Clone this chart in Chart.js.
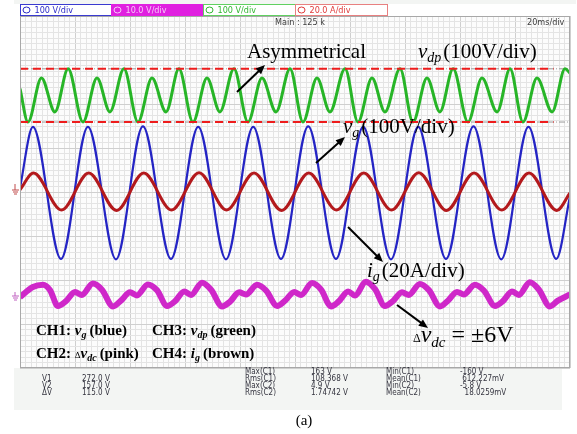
<!DOCTYPE html>
<html>
<head>
<meta charset="utf-8">
<script src="https://cdn.jsdelivr.net/npm/chart.js@4.4.1/dist/chart.umd.min.js"></script>
<style>
  html, body { margin: 0; padding: 0; background: #fff; }
  canvas { display: block; }
</style>
</head>
<body>
<canvas id="scope" width="577" height="434"></canvas>
<script>
// horizontal: 20 ms/div, 10 div.  vertical: screen divisions (8 div)
const timeMin = 0, timeMax = 200;
const divMin = -4, divMax = 4;

// CH3 vdp (green) turning points
const vdpTime = [0, 2.9, 7.8, 12.7, 17.5, 22.9, 28.0, 32.7, 37.8, 42.9, 48.0, 53.1, 57.8, 62.9, 68.0, 72.7, 77.8,
  82.9, 88.0, 93.1, 98.2, 102.9, 108.0, 112.7, 118.2, 122.9, 128.0, 132.7, 138.2, 142.9, 148.0, 152.7, 157.5,
  162.9, 168.0, 173.5, 178.2, 182.9, 188.0, 193.5, 198.2, 200];
const vdpDiv = [2.35, 1.59, 2.59, 1.82, 2.80, 1.59, 2.59, 1.82, 2.80, 1.59, 2.59, 1.82, 2.80, 1.59, 2.59, 1.82, 2.80,
  1.59, 2.59, 1.82, 2.80, 1.59, 2.59, 1.82, 2.80, 1.59, 2.59, 1.82, 2.80, 1.59, 2.59, 1.82, 2.80,
  1.59, 2.59, 1.82, 2.80, 1.59, 2.59, 1.82, 2.80, 2.70];

// CH1 vg (blue)
const vgTime = [0, 4.7, 14.9, 24.7, 34.9, 44.7, 54.9, 64.8, 74.9, 84.8, 94.9, 104.8, 114.9, 124.8, 134.9,
  144.8, 154.9, 164.9, 175.0, 184.9, 195.0, 200];
const vgDiv = [0.10, 1.48, -1.52, 1.48, -1.53, 1.49, -1.52, 1.48, -1.53, 1.48, -1.52, 1.49, -1.52, 1.48, -1.53,
  1.48, -1.52, 1.49, -1.53, 1.48, -1.52, -0.10];

// CH4 ig (brown)
const igTime = [0, 4.9, 15.1, 25.0, 35.1, 45.0, 55.1, 65.1, 75.1, 85.1, 95.1, 105.0, 115.1, 125.0, 135.1,
  145.0, 155.1, 165.1, 175.2, 185.1, 195.2, 200];
const igDiv = [0.05, 0.43, -0.41, 0.43, -0.42, 0.43, -0.41, 0.44, -0.41, 0.43, -0.42, 0.43, -0.41, 0.43, -0.41,
  0.44, -0.42, 0.43, -0.41, 0.43, -0.42, -0.02];

// CH2 delta vdc (pink)
const dvdcTime = [0, 4.7, 8.4, 10.9,
  13.8, 16.7, 20.0, 22.5, 26.5, 29.8,
  33.8, 36.7, 40.0, 42.5, 46.5, 49.8,
  53.5, 56.4, 59.7, 62.2, 66.2, 69.5,
  73.5, 76.4, 79.7, 82.2, 86.2, 89.5,
  93.5, 96.4, 99.7, 102.2, 106.2, 109.5,
  113.1, 116.0, 119.3, 121.8, 125.8, 129.1,
  132.7, 135.6, 138.9, 141.4, 145.4, 148.7,
  152.7, 155.6, 158.9, 161.4, 165.4, 168.7,
  172.7, 175.6, 178.9, 181.4, 185.4, 188.7,
  192.7, 195.6, 200];
const dvdcDiv = [-2.39, -2.16, -2.11, -2.23,
  -2.59, -2.48, -2.27, -2.34, -2.08, -2.22,
  -2.60, -2.47, -2.28, -2.35, -2.10, -2.23,
  -2.59, -2.48, -2.26, -2.34, -2.06, -2.22,
  -2.60, -2.49, -2.28, -2.33, -2.11, -2.24,
  -2.59, -2.47, -2.27, -2.34, -2.07, -2.22,
  -2.60, -2.48, -2.26, -2.35, -2.04, -2.21,
  -2.59, -2.48, -2.28, -2.34, -2.09, -2.23,
  -2.60, -2.47, -2.27, -2.33, -2.11, -2.24,
  -2.59, -2.48, -2.26, -2.34, -2.05, -2.22,
  -2.60, -2.47, -2.33];

// red reference lines (max / min of vdp) and scope cursors
const refLevels = [2.80, 1.59];
const refEnd = 194;

const pts = (t, v) => t.map((x, i) => ({ x: x, y: v[i] }));

const datasets = [];
refLevels.forEach(l => {
  datasets.push({ data: [{ x: timeMin, y: l }, { x: refEnd, y: l }], borderColor: "#ee1c1c", borderWidth: 2,
    borderDash: [8, 5], pointRadius: 0, order: 0 });
  datasets.push({ data: [{ x: timeMin, y: l }, { x: timeMax, y: l }], borderColor: "#9a9a9a", borderWidth: 1,
    borderDash: [6, 2, 1, 2], pointRadius: 0, order: 9 });
});
datasets.push({ data: pts(vdpTime, vdpDiv), borderColor: "#27b527", borderWidth: 3, order: 3 });
datasets.push({ data: pts(igTime, igDiv), borderColor: "#b3191c", borderWidth: 3, order: 2 });
datasets.push({ data: pts(vgTime, vgDiv), borderColor: "#2424c4", borderWidth: 2.2, order: 4 });
datasets.push({ data: pts(dvdcTime, dvdcDiv), borderColor: "#cf27c9", borderWidth: 6, order: 5 });

// text with subscripts, drawn piece by piece
function runs(ctx, x, y, parts) {
  parts.forEach(p => {
    ctx.font = p.f;
    ctx.fillText(p.t, x, y + (p.dy || 0));
    x += ctx.measureText(p.t).width + (p.gap || 0);
  });
}

function arrow(ctx, x1, y1, x2, y2) {
  const a = Math.atan2(y2 - y1, x2 - x1);
  ctx.strokeStyle = "#000";
  ctx.fillStyle = "#000";
  ctx.lineWidth = 2;
  ctx.beginPath();
  ctx.moveTo(x1, y1);
  ctx.lineTo(x2 - 6 * Math.cos(a), y2 - 6 * Math.sin(a));
  ctx.stroke();
  ctx.beginPath();
  ctx.moveTo(x2, y2);
  ctx.lineTo(x2 - 10 * Math.cos(a - 0.4), y2 - 10 * Math.sin(a - 0.4));
  ctx.lineTo(x2 - 10 * Math.cos(a + 0.4), y2 - 10 * Math.sin(a + 0.4));
  ctx.closePath();
  ctx.fill();
}

const serif = '"Liberation Serif", "Times New Roman", serif';
const small = '"Liberation Sans Narrow", "DejaVu Sans Condensed", "Liberation Sans", sans-serif';

const scopeFrame = {
  id: "scopeFrame",
  beforeDraw(chart) {
    const ctx = chart.ctx;
    const a = chart.chartArea;
    ctx.save();
    ctx.fillStyle = "#ffffff";
    ctx.fillRect(0, 0, chart.width, chart.height);
    ctx.fillStyle = "#f3f5f3";
    ctx.fillRect(14, 0, 562, 4);
    ctx.fillRect(14, a.bottom, 548, 42);
    ctx.fillStyle = "#fcfcfc";
    ctx.fillRect(a.left, a.top, a.right - a.left, a.bottom - a.top);
    ctx.restore();
  },
  afterDraw(chart) {
    const ctx = chart.ctx;
    const a = chart.chartArea;
    ctx.save();
    ctx.strokeStyle = "#a8a8a8";
    ctx.lineWidth = 1;
    ctx.strokeRect(a.left + 0.5, a.top + 0.5, a.right - a.left - 1, a.bottom - a.top - 1);

    // channel boxes
    const boxes = [
      { x: 20.5, fill: "#ffffff", stroke: "#3a3ad0", text: "#2a2ac8", label: "100 V/div" },
      { x: 111.5, fill: "#e020e0", stroke: "#e020e0", text: "#f8c8f8", label: "10.0 V/div" },
      { x: 203.5, fill: "#ffffff", stroke: "#60d060", text: "#30b830", label: "100 V/div" },
      { x: 295.5, fill: "#ffffff", stroke: "#e88080", text: "#e03a3a", label: "20.0 A/div" }
    ];
    boxes.forEach(b => {
      ctx.fillStyle = b.fill;
      ctx.fillRect(b.x, 4.5, 92, 11);
      ctx.strokeStyle = b.stroke;
      ctx.strokeRect(b.x, 4.5, 92, 11);
      ctx.strokeStyle = b.text;
      ctx.beginPath();
      ctx.ellipse(b.x + 6, 10, 3.5, 3, 0, 0, Math.PI * 2);
      ctx.stroke();
      ctx.fillStyle = b.text;
      ctx.font = "9px " + small;
      ctx.textBaseline = "middle";
      ctx.fillText(b.label, b.x + 14, 10.5);
    });
    ctx.fillStyle = "#3c3c3c";
    ctx.font = "9px " + small;
    ctx.fillText("Main : 125 k", 275, 23);
    ctx.fillText("20ms/div", 527, 23);

    // ground markers
    ctx.strokeStyle = "#c04a4a";
    ctx.lineWidth = 1;
    ctx.beginPath();
    ctx.moveTo(15, 184); ctx.lineTo(15, 190);
    ctx.moveTo(12, 190); ctx.lineTo(19, 190);
    ctx.moveTo(13, 192); ctx.lineTo(18, 192);
    ctx.moveTo(14, 194); ctx.lineTo(17, 194);
    ctx.stroke();
    ctx.strokeStyle = "#c060c0";
    ctx.beginPath();
    ctx.moveTo(15, 292); ctx.lineTo(15, 296);
    ctx.moveTo(12, 296); ctx.lineTo(19, 296);
    ctx.moveTo(13, 298); ctx.lineTo(18, 298);
    ctx.moveTo(14, 300); ctx.lineTo(17, 300);
    ctx.stroke();

    // annotations
    ctx.textBaseline = "alphabetic";
    ctx.fillStyle = "#000";
    ctx.font = "21px " + serif;
    ctx.fillText("Asymmetrical", 247, 58);
    runs(ctx, 418, 58, [
      { t: "v", f: "italic 21px " + serif },
      { t: "dp", f: "italic 14px " + serif, dy: 4, gap: 2 },
      { t: "(100V/div)", f: "21px " + serif }
    ]);
    runs(ctx, 343, 133, [
      { t: "v", f: "italic 21px " + serif },
      { t: "g", f: "italic 14px " + serif, dy: 4, gap: 2 },
      { t: "(100V/div)", f: "21px " + serif }
    ]);
    runs(ctx, 367, 277, [
      { t: "i", f: "italic 21px " + serif },
      { t: "g", f: "italic 14px " + serif, dy: 4, gap: 2 },
      { t: "(20A/div)", f: "21px " + serif }
    ]);
    runs(ctx, 413, 342, [
      { t: "\u0394", f: "12px " + serif },
      { t: "v", f: "italic 24px " + serif },
      { t: "dc", f: "italic 15px " + serif, dy: 5, gap: 6 },
      { t: "= \u00b16V", f: "24px " + serif }
    ]);
    arrow(ctx, 237, 92, 265, 65);
    arrow(ctx, 316, 163, 345, 137);
    arrow(ctx, 348, 227, 383, 262);
    arrow(ctx, 397, 305, 428, 328);

    // channel key
    const b15 = "bold 15px " + serif;
    const bi15 = "bold italic 15px " + serif;
    const bi10 = "bold italic 10px " + serif;
    runs(ctx, 36, 335, [
      { t: "CH1: ", f: b15 }, { t: "v", f: bi15 }, { t: "g", f: bi10, dy: 3, gap: 3 }, { t: "(blue)", f: b15 }
    ]);
    runs(ctx, 152, 335, [
      { t: "CH3: ", f: b15 }, { t: "v", f: bi15 }, { t: "dp", f: bi10, dy: 3, gap: 3 }, { t: "(green)", f: b15 }
    ]);
    runs(ctx, 36, 358, [
      { t: "CH2: ", f: b15 }, { t: "\u0394", f: "9px " + serif }, { t: "v", f: bi15 },
      { t: "dc", f: bi10, dy: 3, gap: 3 }, { t: "(pink)", f: b15 }
    ]);
    runs(ctx, 152, 358, [
      { t: "CH4: ", f: b15 }, { t: "i", f: bi15 }, { t: "g", f: bi10, dy: 3, gap: 3 }, { t: "(brown)", f: b15 }
    ]);

    // measurement panel
    ctx.fillStyle = "#34343f";
    ctx.font = "8px " + small;
    ctx.textBaseline = "middle";
    const vRows = [["V1", "272.0 V"], ["V2", "157.0 V"], ["\u0394V", "115.0 V"]];
    vRows.forEach((r, i) => {
      ctx.fillText(r[0], 42, 379 + i * 7);
      ctx.fillText(r[1], 82, 379 + i * 7);
    });
    const mRows = [
      ["Max(C1)", "163 V", "Min(C1)", "-160 V"],
      ["Rms(C1)", "108.368 V", "Mean(C1)", " 612.227mV"],
      ["Max(C2)", "4.9 V", "Min(C2)", "-5.8 V"],
      ["Rms(C2)", "1.74742 V", "Mean(C2)", "  18.0259mV"]
    ];
    mRows.forEach((r, i) => {
      const y = 372 + i * 7;
      ctx.fillText(r[0], 245, y);
      ctx.fillText(r[1], 311, y);
      ctx.fillText(r[2], 386, y);
      ctx.fillText(r[3], 460, y);
    });

    ctx.fillStyle = "#000";
    ctx.font = "15px " + serif;
    ctx.textAlign = "center";
    ctx.fillText("(a)", 304, 421);
    ctx.restore();
  }
};

new Chart(document.getElementById("scope"), {
  type: "line",
  data: { datasets: datasets },
  options: {
    responsive: false,
    animation: false,
    events: [],
    layout: { padding: { left: 20, right: 7, top: 16, bottom: 66 } },
    elements: {
      line: { cubicInterpolationMode: "monotone", fill: false },
      point: { radius: 0 }
    },
    plugins: { legend: { display: false }, tooltip: { enabled: false } },
    scales: {
      x: {
        type: "linear", min: timeMin, max: timeMax,
        ticks: { display: false, stepSize: 2 },
        border: { display: false },
        grid: {
          drawTicks: false,
          color: c => (c.tick.value % 20 === 0 ? "#cfcfcf" : "#e4e4e4")
        }
      },
      y: {
        type: "linear", min: divMin, max: divMax,
        ticks: { display: false, stepSize: 0.125 },
        border: { display: false },
        grid: {
          drawTicks: false,
          color: c => (c.tick.value % 1 === 0 ? "#cfcfcf" : "#e4e4e4")
        }
      }
    }
  },
  plugins: [scopeFrame]
});
</script>
</body>
</html>
